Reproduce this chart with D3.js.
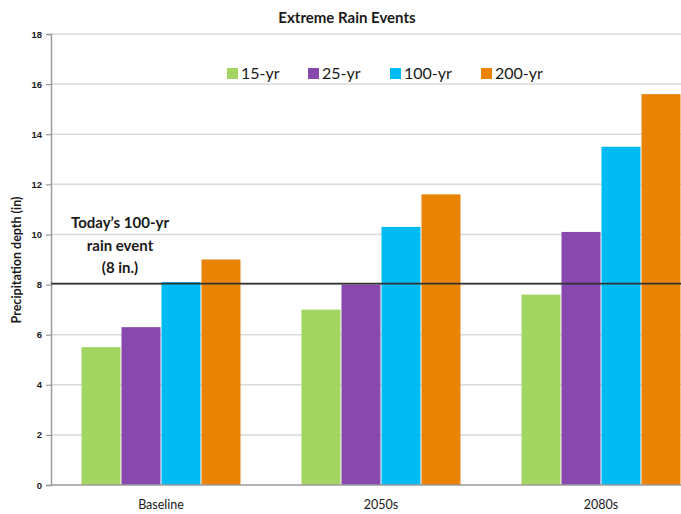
<!DOCTYPE html>
<html>
<head>
<meta charset="utf-8">
<script src="https://cdn.jsdelivr.net/npm/d3@7"></script>
<style>
  html, body { margin: 0; padding: 0; background: #fff; }
  svg { display: block; font-family: Lato, "Open Sans", sans-serif; }
</style>
</head>
<body>
<svg id="chart" width="681" height="514"></svg>
<script>
// Precipitation depth (inches) of extreme rain events by period
const periods = ["Baseline", "2050s", "2080s"];
const returnPeriods = ["15-yr", "25-yr", "100-yr", "200-yr"];
const depth15 = [5.5, 7.0, 7.6];
const depth25 = [6.3, 8.0, 10.1];
const depth100 = [8.1, 10.3, 13.5];
const depth200 = [9.0, 11.6, 15.6];
const yTicks = [0, 2, 4, 6, 8, 10, 12, 14, 16, 18];
const todays100yr = 8;
const seriesColors = ["#a2d562", "#8749ae", "#00bcf2", "#ea8204"];

const series = [depth15, depth25, depth100, depth200];

const svg = d3.select("#chart");
const plot = { left: 51, right: 711, top: 34, bottom: 485 };
const visibleRight = 681;

const x0 = d3.scaleBand()
  .domain(periods)
  .range([plot.left, plot.right])
  .paddingInner(60 / 220)
  .paddingOuter(30 / 220);

const x1 = d3.scaleBand()
  .domain(returnPeriods)
  .range([0, x0.bandwidth()])
  .padding(0);

const y = d3.scaleLinear().domain([0, 18]).range([plot.bottom, plot.top]);

const color = d3.scaleOrdinal().domain(returnPeriods).range(seriesColors);

// Horizontal gridlines
svg.append("g")
  .selectAll("line")
  .data(yTicks.filter(d => d > 0))
  .join("line")
  .attr("x1", plot.left)
  .attr("x2", visibleRight)
  .attr("y1", d => y(d))
  .attr("y2", d => y(d))
  .attr("stroke", "#d9d9d9")
  .attr("stroke-width", 1.5);

// Bars
const groups = svg.append("g")
  .selectAll("g")
  .data(periods)
  .join("g")
  .attr("transform", d => `translate(${x0(d)},0)`);

groups.selectAll("rect")
  .data((p, i) => returnPeriods.map((rp, j) => ({ rp, v: series[j][i] })))
  .join("rect")
  .attr("x", d => x1(d.rp) + 0.5)
  .attr("width", x1.bandwidth() - 1)
  .attr("y", d => y(d.v))
  .attr("height", d => y(0) - y(d.v))
  .attr("fill", d => color(d.rp));

// Y axis
const yAxis = d3.axisLeft(y)
  .tickValues(yTicks)
  .tickSize(5)
  .tickFormat(d3.format("d"));

const yg = svg.append("g")
  .attr("transform", `translate(${plot.left},0)`)
  .call(yAxis);
yg.select(".domain").attr("stroke", "#9a9a9a").attr("stroke-width", 1.5);
yg.selectAll(".tick line").attr("stroke", "#9a9a9a").attr("stroke-width", 1.2);
yg.selectAll(".tick text")
  .attr("fill", "#1a1a1a")
  .attr("font-size", 9.5)
  .attr("font-weight", "bold")
  .attr("x", -9);

// X axis baseline
svg.append("line")
  .attr("x1", plot.left)
  .attr("x2", visibleRight)
  .attr("y1", y(0))
  .attr("y2", y(0))
  .attr("stroke", "#9a9a9a")
  .attr("stroke-width", 1.5);

// Category labels
svg.append("g")
  .selectAll("text")
  .data(periods)
  .join("text")
  .attr("x", d => x0(d) + x0.bandwidth() / 2)
  .attr("y", 509)
  .attr("text-anchor", "middle")
  .attr("font-size", 12.5)
  .attr("fill", "#1a1a1a")
  .text(d => d);

// Reference line for today's 100-yr event
svg.append("line")
  .attr("x1", plot.left)
  .attr("x2", visibleRight)
  .attr("y1", y(todays100yr) - 1)
  .attr("y2", y(todays100yr) - 1)
  .attr("stroke", "#333")
  .attr("stroke-width", 1.8);

const note = svg.append("text")
  .attr("text-anchor", "middle")
  .attr("font-size", 15)
  .attr("font-weight", "bold")
  .attr("fill", "#1a1a1a");
["Today\u2019s 100-yr", "rain event", `(${todays100yr} in.)`].forEach((line, i) => {
  note.append("tspan")
    .attr("x", 120)
    .attr("y", 228 + i * 22.5)
    .text(line);
});

// Title
svg.append("text")
  .attr("x", 347)
  .attr("y", 23)
  .attr("text-anchor", "middle")
  .attr("font-size", 15)
  .attr("font-weight", "bold")
  .attr("fill", "#1a1a1a")
  .text("Extreme Rain Events");

// Y axis title
svg.append("text")
  .attr("transform", "translate(21,260) rotate(-90)")
  .attr("text-anchor", "middle")
  .attr("font-size", 12.5)
  .attr("font-weight", "bold")
  .attr("fill", "#1a1a1a")
  .text("Precipitation depth (in)");

// Legend
const legendX = [227, 308, 390, 481];
const legend = svg.append("g")
  .selectAll("g")
  .data(returnPeriods)
  .join("g")
  .attr("transform", (d, i) => `translate(${legendX[i]},68)`);
legend.append("rect")
  .attr("width", 11)
  .attr("height", 11)
  .attr("fill", d => color(d));
legend.append("text")
  .attr("x", 14)
  .attr("y", 11)
  .attr("font-size", 16)
  .attr("fill", "#1a1a1a")
  .text(d => d);
</script>
</body>
</html>
